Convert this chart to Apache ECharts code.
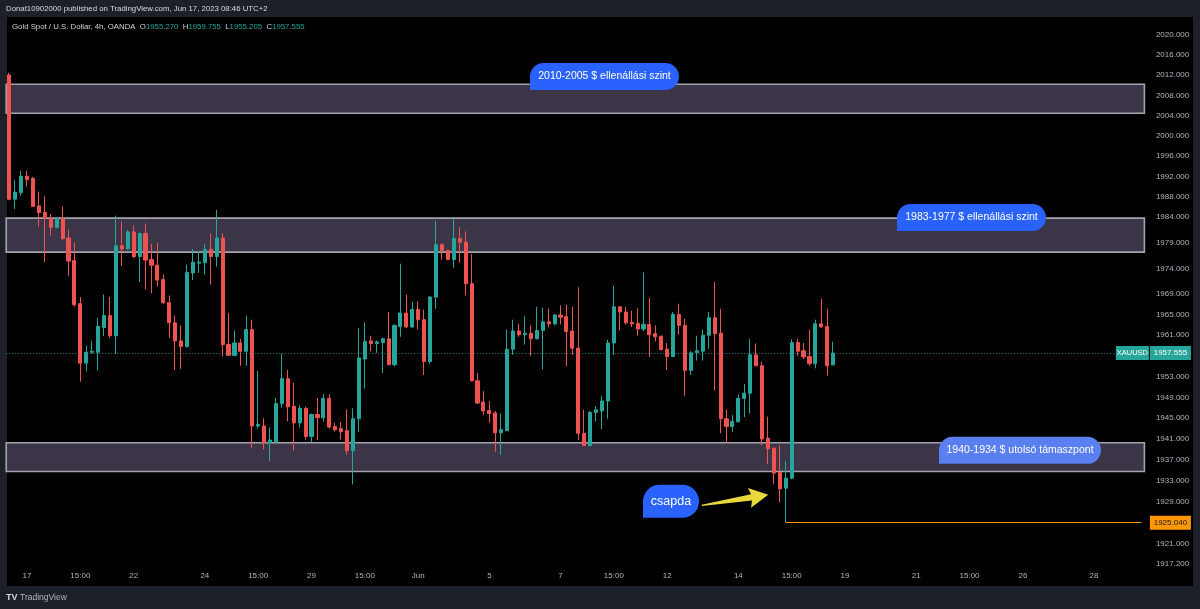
<!DOCTYPE html>
<html><head><meta charset="utf-8">
<script src="https://cdn.jsdelivr.net/npm/echarts@6/dist/echarts.min.js"></script>
<style>
html,body{margin:0;padding:0;background:#1e2029;width:1200px;height:609px;overflow:hidden}
#panel{position:absolute;left:7px;top:17px;width:1186px;height:569px;background:#000}
#chart{position:absolute;left:0;top:0;width:1200px;height:609px}
</style></head><body>
<div id="panel"></div><div id="chart"></div>
<script>
// ---- data (4h candles, OANDA XAUUSD) ----
const open = [2012.05,1987.5,1988.8,1992.0,1991.6,1986.2,1984.9,1983.8,1982.0,1983.7,
1979.9,1975.5,1967.1,1955.6,1957.7,1957.7,1962.5,1964.8,1960.9,1978.4,
1977.8,1981.1,1976.3,1980.8,1975.7,1974.6,1971.8,1967.3,1963.4,1959.9,
1958.8,1973.1,1975.0,1975.1,1977.7,1976.3,1979.9,1959.2,1957.1,1959.5,
1957.9,1962.1,1943.5,1943.5,1940.3,1940.5,1947.8,1952.6,1947.3,1944.1,
1946.9,1941.5,1945.7,1945.1,1948.8,1943.4,1943.0,1942.6,1938.75,1944.9,
1956.4,1959.9,1959.4,1959.6,1960.3,1955.3,1962.7,1965.3,1962.6,1966.0,
1964.0,1955.9,1968.4,1978.6,1977.5,1975.7,1979.8,1979.1,1971.0,1952.2,
1948.1,1946.5,1946.0,1942.2,1942.6,1958.3,1961.8,1961.1,1961.4,1960.3,
1961.9,1963.6,1963.2,1964.9,1964.6,1961.8,1958.5,1942.1,1939.75,1946.1,
1946.4,1948.3,1959.5,1966.5,1965.5,1963.5,1963.3,1962.2,1963.1,1961.3,
1960.8,1958.3,1956.9,1965.0,1962.9,1954.2,1957.6,1957.9,1961.0,1964.4,
1961.4,1944.9,1943.4,1944.3,1948.8,1949.8,1957.2,1955.1,1941.16,1939.25,
1934.6,1931.61,1933.52,1959.6,1958.0,1956.9,1955.5,1963.2,1962.7,1955.270];
const high = [2012.45,1991.3,1993.1,1993.1,1991.9,1989.0,1988.1,1984.6,1984.0,1986.1,
1981.5,1979.1,1968.4,1959.0,1959.9,1964.4,1968.9,1968.4,1984.3,1983.2,
1981.5,1982.4,1981.0,1982.7,1978.8,1979.0,1972.8,1968.7,1964.8,1962.9,
1974.7,1977.8,1977.3,1978.8,1980.8,1985.4,1980.9,1965.3,1961.9,1960.3,
1964.8,1964.0,1954.1,1945.0,1943.2,1948.9,1957.4,1954.3,1951.8,1947.5,
1947.2,1945.9,1948.9,1949.6,1949.6,1944.1,1944.3,1946.7,1946.9,1962.4,
1963.5,1960.9,1960.0,1960.5,1965.5,1963.1,1974.9,1968.9,1967.5,1967.6,
1966.0,1968.6,1983.3,1978.9,1977.6,1983.6,1982.0,1981.2,1976.8,1953.7,
1950.2,1948.3,1946.4,1945.9,1962.1,1964.0,1963.2,1964.7,1962.9,1966.5,
1966.3,1966.2,1965.1,1966.8,1966.9,1966.5,1970.3,1946.6,1946.4,1947.3,
1949.3,1960.1,1970.6,1966.6,1966.5,1965.8,1966.2,1973.2,1968.2,1962.9,
1960.9,1959.5,1965.5,1967.1,1964.2,1957.9,1960.9,1962.1,1965.5,1971.3,
1966.1,1946.7,1945.6,1949.6,1951.6,1960.3,1959.4,1955.9,1945.3,1939.4,
1939.75,1936.82,1960.22,1960.3,1959.5,1962.1,1964.0,1968.1,1966.1,1959.755];
const low = [1987.3,1985.6,1988.2,1990.0,1986.1,1982.1,1975.2,1980.4,1981.8,1979.6,
1972.5,1966.6,1952.0,1954.0,1957.4,1954.2,1960.8,1960.5,1957.4,1974.4,
1977.6,1976.0,1971.3,1969.9,1969.1,1970.5,1967.0,1960.5,1954.3,1954.5,
1958.6,1971.7,1973.1,1972.8,1970.8,1974.3,1956.9,1957.0,1957.0,1955.1,
1955.1,1939.35,1943.0,1939.0,1936.8,1940.1,1947.0,1944.4,1938.8,1943.2,
1940.9,1940.35,1940.8,1944.3,1943.0,1942.4,1940.9,1938.0,1932.3,1942.4,
1950.7,1957.9,1957.6,1953.7,1955.2,1955.0,1960.7,1962.4,1962.4,1962.1,
1953.3,1955.5,1966.1,1975.7,1975.6,1974.1,1975.1,1968.7,1952.1,1947.8,
1945.6,1944.1,1938.6,1938.0,1942.5,1957.2,1960.7,1959.2,1957.0,1960.2,
1954.4,1962.5,1962.9,1963.1,1955.0,1957.2,1940.85,1939.7,1939.55,1944.4,
1942.9,1944.9,1957.2,1961.9,1963.1,1962.6,1960.9,1961.8,1956.8,1959.8,
1958.1,1954.3,1956.8,1961.1,1949.3,1953.3,1956.1,1956.1,1958.4,1950.4,
1942.1,1940.2,1942.4,1944.2,1945.2,1945.9,1955.0,1939.8,1936.2,1932.43,
1928.95,1925.04,1933.3,1957.0,1956.4,1955.1,1954.6,1962.5,1953.2,1955.205];
const close = [1987.5,1988.9,1992.0,1991.4,1986.1,1984.9,1983.8,1982.0,1983.8,1979.8,
1975.4,1966.9,1955.6,1957.7,1957.9,1962.7,1964.8,1960.9,1978.4,1977.8,
1981.1,1976.3,1980.8,1975.6,1974.6,1971.7,1967.3,1963.4,1959.9,1958.8,
1973.2,1975.2,1975.2,1977.7,1976.3,1979.9,1959.2,1957.1,1959.5,1957.9,
1962.1,1943.5,1943.8,1940.3,1940.8,1947.8,1952.6,1947.2,1944.1,1946.9,
1941.5,1945.7,1945.1,1948.8,1943.3,1942.8,1942.4,1938.75,1944.9,1956.6,
1959.8,1959.4,1959.7,1960.3,1955.3,1962.9,1965.3,1962.6,1966.0,1964.0,
1955.9,1968.4,1978.6,1977.5,1975.7,1979.8,1979.1,1971.0,1952.2,1947.9,
1946.4,1945.9,1942.2,1942.8,1958.3,1961.8,1961.1,1961.4,1960.3,1961.9,
1963.6,1963.2,1964.9,1964.5,1961.7,1958.5,1942.1,1939.75,1946.1,1946.6,
1948.3,1959.5,1966.5,1965.5,1963.4,1963.2,1962.2,1963.1,1961.1,1960.7,
1958.2,1956.9,1965.0,1962.9,1954.2,1957.6,1958.0,1961.0,1964.4,1961.3,
1944.9,1943.4,1944.4,1948.8,1949.8,1957.2,1955.1,1941.0,1939.12,1934.47,
1931.48,1933.52,1959.56,1957.9,1956.8,1955.5,1963.2,1962.6,1955.1,1957.555];

// x-axis tick labels: [slot index, text]
const timeLabels = [[3,'17'],[12,'15:00'],[21,'22'],[33,'24'],[42,'15:00'],[51,'29'],[60,'15:00'],[69,'Jun'],[81,'5'],[93,'7'],[102,'15:00'],[111,'12'],[123,'14'],[132,'15:00'],[141,'19'],[153,'21'],[162,'15:00'],[171,'26'],[183,'28']];
const slotCount = 192;
// price-axis tick labels
const yTicks = [2020,2016,2012,2008,2004,2000,1996,1992,1988,1984,1979,1974,1969,1965,1961,1953,1949,1945,1941,1937,1933,1929,1921,1917.2];
// zones [top, bottom]
const zones = [[2010.2,2004.45],[1983.8,1977.15],[1940.3,1934.8]];
const lastPrice = 1957.555;
const trapLow = 1925.04;
const trapIndex = 131;
const symbol = 'XAUUSD';

// annotations: anchor = [slot, price] of bubble's bottom-left corner
const notes = [
  {text:'2010-2005 $ ellenállási szint', at:[87.85, 2009.06], w:149, h:27, color:'#2962ff', size:10.5},
  {text:'1983-1977 $ ellenállási szint', at:[149.76, 1981.29], w:149, h:27, color:'#2962ff', size:10.5},
  {text:'1940-1934 $ utolsó támaszpont', at:[156.85, 1936.25], w:162, h:27, color:'#5a7ff0', size:10.5},
  {text:'csapda', at:[106.92, 1925.96], w:56, h:33, color:'#2962ff', size:12.5}
];
const arrow = {from:[116.82, 1928.34], to:[128.05, 1930.34]};

const FONT = '"Liberation Sans", Arial, sans-serif';
const labelMap = new Map(timeLabels);
const categories = Array.from({length: slotCount}, (_, i) => String(i));
const candleData = open.map((o, i) => [o, close[i], low[i], high[i]]);

const chart = echarts.init(document.getElementById('chart'), null, {renderer:'canvas'});
const option = {
  animation: false,
  backgroundColor: 'transparent',
  grid: {left: 6.24, right: 55.6, top: 17, bottom: 42, containLabel: false, outerBoundsMode: 'none'},
  xAxis: {
    type: 'category', data: categories, boundaryGap: true,
    axisLine: {show: false}, axisTick: {show: false}, splitLine: {show: false},
    axisLabel: {
      interval: (i) => labelMap.has(i),
      formatter: (v, i) => labelMap.get(i) || '',
      color: '#b2b5be', fontSize: 8, margin: 5, fontFamily: FONT, hideOverlap: false
    }
  },
  yAxis: {
    type: 'log', logBase: 10, min: 1916.63, max: 2023.593, position: 'right',
    axisLine: {show: false}, axisTick: {show: false}, splitLine: {show: false},
    axisLabel: {
      customValues: yTicks,
      formatter: (v) => Number(v).toFixed(3),
      color: '#b2b5be', fontSize: 8, margin: 11.5, fontFamily: FONT
    }
  },
  series: [{
    type: 'candlestick',
    data: candleData,
    barWidth: 3.6,
    itemStyle: {color: '#26a69a', color0: '#ef5350', borderColor: '#26a69a', borderColor0: '#ef5350', borderWidth: 1},
    markArea: {
      silent: true,
      label: {show: false},
      itemStyle: {color: '#3c3548', borderColor: '#a3a3ad', borderWidth: 1.6},
      data: zones.map(z => [{yAxis: z[0]}, {yAxis: z[1]}])
    },
    markLine: {
      silent: true, symbol: 'none', label: {show: false},
      data: [
        {yAxis: lastPrice, lineStyle: {color: '#26a69a', type: [1, 2], width: 1, opacity: 0.8}},
        [{coord: [trapIndex, trapLow], lineStyle: {color: '#ff9800', type: 'solid', width: 1}},
         {coord: [slotCount - 1, trapLow]}]
      ]
    }
  }]
};
chart.setOption(option);

// ---- overlays positioned through the chart's own scales ----
const gx0 = chart.convertToPixel({xAxisIndex: 0}, 0);
const gx1 = chart.convertToPixel({xAxisIndex: 0}, 1);
const xp = f => gx0 + f * (gx1 - gx0);
const yp = p => chart.convertToPixel({yAxisIndex: 0}, p);
const gridRight = 1200 - 55.6;

const els = [];
// header
els.push({type:'text', left: 6, top: 5, style:{text:'Donat10902000 published on TradingView.com, Jun 17, 2023 08:46 UTC+2', fill:'#d8dae0', font:'7.8px ' + FONT}});
const n = open.length - 1;
els.push({type:'text', left: 12, top: 23, style:{
  text: '{t|Gold Spot / U.S. Dollar, 4h, OANDA}  {k|O}{v|' + open[n].toFixed(3) + '}  {k|H}{v|' + high[n].toFixed(3) + '}  {k|L}{v|' + low[n].toFixed(3) + '}  {k|C}{v|' + close[n].toFixed(3) + '}',
  font: '7.8px ' + FONT,
  rich: {t:{fill:'#d1d4dc', font:'7.8px ' + FONT}, k:{fill:'#d1d4dc', font:'7.8px ' + FONT}, v:{fill:'#26a69a', font:'7.8px ' + FONT}}
}});
// footer
els.push({type:'text', left: 6, top: 593, style:{text:'TV', fill:'#d1d4dc', font:'bold 9px ' + FONT}});
els.push({type:'text', left: 20, top: 593, style:{text:'TradingView', fill:'#b2b5be', font:'8.5px ' + FONT}});

// bubbles
notes.forEach(nt => {
  const x = xp(nt.at[0]), yb = yp(nt.at[1]);
  const r = nt.h / 2;
  els.push({type:'rect', z: 50, shape:{x: x, y: yb - nt.h, width: nt.w, height: nt.h, r: [r, r, r, 0]}, style:{fill: nt.color}});
  els.push({type:'text', z: 51, style:{text: nt.text, x: x + nt.w / 2, y: yb - nt.h / 2, align:'center', verticalAlign:'middle', fill:'#ffffff', font: nt.size + 'px ' + FONT}});
});

// arrow
(function(){
  const tx = xp(arrow.from[0]), ty = yp(arrow.from[1]);
  const hx = xp(arrow.to[0]), hy = yp(arrow.to[1]);
  const dx = hx - tx, dy = hy - ty, L = Math.hypot(dx, dy);
  const ux = dx / L, uy = dy / L, nx = -uy, ny = ux;
  const headLen = 17, headHalf = 10, shaftHalf = 3.2, tailHalf = 0.6;
  const bx = hx - ux * headLen, by = hy - uy * headLen;
  const pts = [
    [tx + nx * tailHalf, ty + ny * tailHalf],
    [bx + nx * shaftHalf, by + ny * shaftHalf],
    [bx - ux * 2 + nx * headHalf, by - uy * 2 + ny * headHalf],
    [hx, hy],
    [bx - ux * 2 - nx * headHalf, by - uy * 2 - ny * headHalf],
    [bx - nx * shaftHalf, by - ny * shaftHalf],
    [tx - nx * tailHalf, ty - ny * tailHalf]
  ];
  els.push({type:'polygon', z: 50, shape:{points: pts}, style:{fill:'#e8d83c'}});
})();

// price tags
(function(){
  const y1 = yp(lastPrice);
  els.push({type:'rect', z: 60, shape:{x: gridRight - 28.5, y: y1 - 7, width: 33, height: 14}, style:{fill:'#26a69a'}});
  els.push({type:'text', z: 61, style:{text: symbol, x: gridRight - 12, y: y1, align:'center', verticalAlign:'middle', fill:'#ffffff', font:'7.5px ' + FONT}});
  els.push({type:'rect', z: 60, shape:{x: gridRight + 5.5, y: y1 - 7, width: 41, height: 14}, style:{fill:'#26a69a'}});
  els.push({type:'text', z: 61, style:{text: lastPrice.toFixed(3), x: gridRight + 26, y: y1, align:'center', verticalAlign:'middle', fill:'#ffffff', font:'8px ' + FONT}});
  const y2 = yp(trapLow);
  els.push({type:'rect', z: 60, shape:{x: gridRight + 5.5, y: y2 - 7, width: 41, height: 14}, style:{fill:'#ff9800'}});
  els.push({type:'text', z: 61, style:{text: trapLow.toFixed(3), x: gridRight + 26, y: y2, align:'center', verticalAlign:'middle', fill:'#131722', font:'8px ' + FONT}});
})();

chart.setOption({graphic: {elements: els}});
</script>
</body></html>
